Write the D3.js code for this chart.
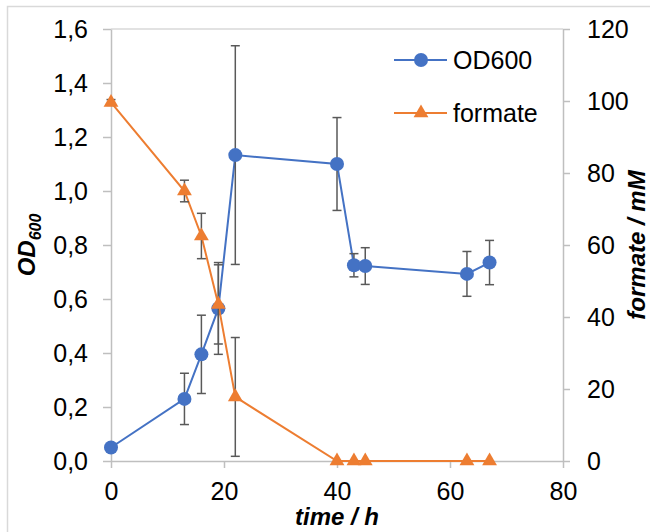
<!DOCTYPE html>
<html>
<head>
<meta charset="utf-8">
<script src="https://cdn.jsdelivr.net/npm/d3@7"></script>
<style>
  body { margin: 0; background: #fff; }
  text { font-family: "Liberation Sans", Arial, sans-serif; }
</style>
</head>
<body>
<div id="chart"></div>
<script>
const width = 650;
const height = 532;

// time points (h)
const timeH = [0, 13, 16, 19, 22, 40, 43, 45, 63, 67];
// OD600 mean and error
const od600 = [0.05, 0.23, 0.395, 0.565, 1.133, 1.10, 0.725, 0.722, 0.693, 0.735];
const odErr = [0, 0.095, 0.145, 0.17, 0.405, 0.172, 0.043, 0.068, 0.083, 0.082];
// formate (mM) mean and error
const formate = [99.6, 75, 62.5, 43.5, 17.8, 0, 0, 0, 0, 0];
const formErr = [0.8, 3, 6.3, 11, 16.5, 0, 0, 0, 0, 0];

const xTicks = [0, 20, 40, 60, 80];
const odTicks = [0, 0.2, 0.4, 0.6, 0.8, 1.0, 1.2, 1.4, 1.6];
const formTicks = [0, 20, 40, 60, 80, 100, 120];

const blue = "#4472c4";
const orange = "#ed7d31";
const axisGray = "#bfbfbf";
const errGray = "#595959";
const fs = "25px";
const titleFs = "24px";

const margin = {left: 111, right: 87, top: 29, bottom: 71};

const svg = d3.select("#chart")
  .append("svg")
    .attr("width", width)
    .attr("height", height);

// chart frame
svg.append("rect")
  .attr("x", 7.5).attr("y", 6.5)
  .attr("width", 660).attr("height", 560)
  .attr("fill", "none")
  .attr("stroke", "#d9d9d9")
  .attr("stroke-width", 1.5);

const x = d3.scaleLinear().domain([0, 80]).range([margin.left, width - margin.right]);
const yOD = d3.scaleLinear().domain([0, 1.6]).range([height - margin.bottom, margin.top]);
const yF = d3.scaleLinear().domain([0, 120]).range([height - margin.bottom, margin.top]);

const comma = d => d3.format(".1f")(d).replace(".", ",");

// top border line of plot
svg.append("line")
  .attr("x1", x(0)).attr("x2", x(80))
  .attr("y1", yOD(1.6)).attr("y2", yOD(1.6))
  .attr("stroke", "#d9d9d9")
  .attr("stroke-width", 1.5);

function styleAxis(g) {
  g.selectAll("path, line")
    .attr("stroke", axisGray)
    .attr("stroke-width", 1.5);
  g.selectAll("text")
    .attr("fill", "#000")
    .style("font-size", fs)
    .style("font-family", "'Liberation Sans', Arial, sans-serif");
}

svg.append("g")
  .attr("transform", `translate(${x(0)},0)`)
  .call(d3.axisLeft(yOD).tickValues(odTicks).tickFormat(comma).tickSize(8).tickSizeOuter(0).tickPadding(15))
  .call(styleAxis);

svg.append("g")
  .attr("transform", `translate(${x(80)},0)`)
  .call(d3.axisRight(yF).tickValues(formTicks).tickSize(7).tickSizeOuter(0).tickPadding(17))
  .call(styleAxis);

svg.append("g")
  .attr("transform", `translate(0,${yOD(0)})`)
  .call(d3.axisBottom(x).tickValues(xTicks).tickSize(7).tickSizeOuter(0).tickPadding(14))
  .call(styleAxis);

// axis titles
const odTitle = svg.append("text")
  .attr("transform", `translate(35,${(yOD(0) + yOD(1.6)) / 2}) rotate(-90)`)
  .attr("text-anchor", "middle")
  .style("font-size", titleFs)
  .style("font-weight", "bold")
  .style("font-style", "italic");
odTitle.append("tspan").text("OD");
odTitle.append("tspan").attr("dy", 6).style("font-size", "16px").text("600");

svg.append("text")
  .attr("transform", `translate(645,${(yF(0) + yF(120)) / 2}) rotate(-90)`)
  .attr("text-anchor", "middle")
  .style("font-size", titleFs)
  .style("font-weight", "bold")
  .style("font-style", "italic")
  .text("formate / mM");

svg.append("text")
  .attr("x", (x(0) + x(80)) / 2)
  .attr("y", 525)
  .attr("text-anchor", "middle")
  .style("font-size", titleFs)
  .style("font-weight", "bold")
  .style("font-style", "italic")
  .text("time / h");

const odData = timeH.map((t, i) => ({t: t, v: od600[i], e: odErr[i]}));
const fData = timeH.map((t, i) => ({t: t, v: formate[i], e: formErr[i]}));

function errorBars(data, y, cls) {
  const g = svg.append("g").attr("class", cls)
    .attr("stroke", errGray).attr("stroke-width", 1.5);
  const bars = data.filter(d => d.e > 0);
  g.selectAll(".stem").data(bars).join("line")
    .attr("x1", d => x(d.t)).attr("x2", d => x(d.t))
    .attr("y1", d => y(d.v - d.e)).attr("y2", d => y(d.v + d.e));
  g.selectAll(".capTop").data(bars).join("line")
    .attr("x1", d => x(d.t) - 4.5).attr("x2", d => x(d.t) + 4.5)
    .attr("y1", d => y(d.v + d.e)).attr("y2", d => y(d.v + d.e));
  g.selectAll(".capBot").data(bars).join("line")
    .attr("x1", d => x(d.t) - 4.5).attr("x2", d => x(d.t) + 4.5)
    .attr("y1", d => y(d.v - d.e)).attr("y2", d => y(d.v - d.e));
}

// OD600 series
svg.append("path")
  .datum(odData)
  .attr("fill", "none")
  .attr("stroke", blue)
  .attr("stroke-width", 2)
  .attr("d", d3.line().x(d => x(d.t)).y(d => yOD(d.v)));
errorBars(odData, yOD, "od-err");
svg.selectAll(".od-dot")
  .data(odData)
  .join("circle")
    .attr("class", "od-dot")
    .attr("cx", d => x(d.t))
    .attr("cy", d => yOD(d.v))
    .attr("r", 7)
    .attr("fill", blue);

// formate series
const tri = d3.symbol().type(d3.symbolTriangle).size(95);
svg.append("path")
  .datum(fData)
  .attr("fill", "none")
  .attr("stroke", orange)
  .attr("stroke-width", 2)
  .attr("d", d3.line().x(d => x(d.t)).y(d => yF(d.v)));
errorBars(fData, yF, "f-err");
svg.selectAll(".f-dot")
  .data(fData)
  .join("path")
    .attr("class", "f-dot")
    .attr("d", tri)
    .attr("transform", d => `translate(${x(d.t)},${yF(d.v)})`)
    .attr("fill", orange);

// legend
const legend = svg.append("g").attr("class", "legend");
const legItems = [
  {name: "OD600", color: blue, shape: "circle", y: 60},
  {name: "formate", color: orange, shape: "triangle", y: 113}
];
legItems.forEach(function (d) {
  legend.append("line")
    .attr("x1", 394).attr("x2", 447)
    .attr("y1", d.y).attr("y2", d.y)
    .attr("stroke", d.color).attr("stroke-width", 2);
  if (d.shape === "circle") {
    legend.append("circle").attr("cx", 421).attr("cy", d.y).attr("r", 7).attr("fill", d.color);
  } else {
    legend.append("path").attr("d", tri).attr("transform", `translate(421,${d.y})`).attr("fill", d.color);
  }
  legend.append("text")
    .attr("x", 453).attr("y", d.y + 9)
    .style("font-size", fs)
    .text(d.name);
});
</script>
</body>
</html>
